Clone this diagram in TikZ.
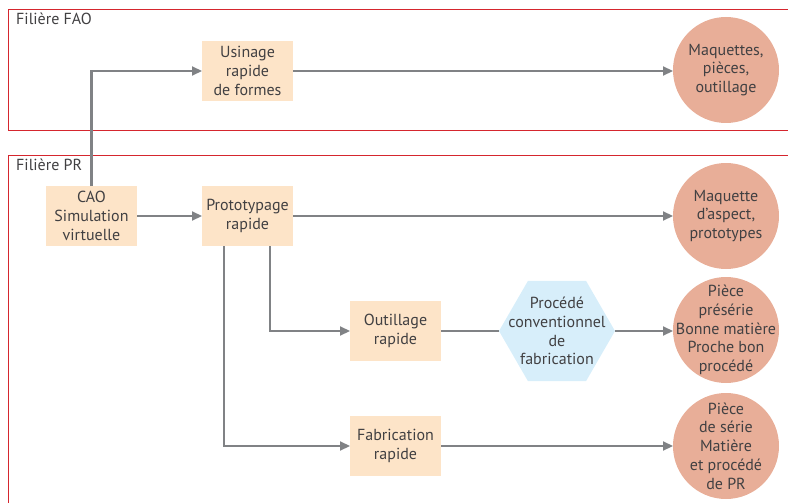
\documentclass[tikz,border=0pt]{standalone}
\usepackage{fontspec}
\setmainfont{PT Sans}
\usetikzlibrary{arrows.meta,shapes.geometric}
\definecolor{frameRed}{HTML}{D5262E}
\definecolor{peach}{HTML}{FDE4C8}
\definecolor{salmon}{HTML}{E8AE98}
\definecolor{skyblue}{HTML}{D7EEFA}
\definecolor{arrowGray}{HTML}{808285}
\definecolor{textGray}{HTML}{414042}
\begin{document}
\begin{tikzpicture}[x=1pt,y=-1pt,
  every node/.style={font=\fontsize{16}{18.8}\selectfont, text=textGray, align=center},
  stepbox/.style={fill=peach, minimum width=91pt, minimum height=60pt, inner sep=0pt, outer sep=0pt},
  result/.style={circle, fill=salmon, minimum size=106pt, inner sep=0pt, outer sep=0pt},
  hexa/.style={regular polygon, regular polygon sides=6, fill=skyblue, minimum size=116pt, inner sep=0pt, outer sep=0pt},
  frameline/.style={draw=frameRed, line width=1pt},
  conn/.style={draw=arrowGray, line width=2.2pt, -{Triangle[length=10pt,width=9pt]}},
  plainconn/.style={draw=arrowGray, line width=2.2pt}
]
\useasboundingbox (0,0) rectangle (788,503);
\begin{scope}
\clip (0,0) rectangle (788,503);
\draw[frameline] (800,10) -- (8,10) -- (8,130) -- (800,130);
\draw[frameline] (800,155) -- (8,155) -- (8,520);
\end{scope}
\node[anchor=base west, inner sep=0pt] (tfao) at (16,25) {Filière FAO};
\node[anchor=base west, inner sep=0pt] (tpr) at (16,170) {Filière PR};

\node[stepbox] (usin) at (247.5,71) {Usinage\\rapide\\de formes};
\node[stepbox] (cao) at (91.5,216) {CAO\\Simulation\\virtuelle};
\node[stepbox] (proto) at (247.5,216) {Prototypage\\rapide};
\node[stepbox] (outil) at (395.5,331) {Outillage\\rapide};
\node[stepbox] (fab) at (395.5,446) {Fabrication\\rapide};
\node[hexa] (hex) at (557,331) {};
\node at (hex.center) (hextext) {Procédé\\conventionnel\\de\\fabrication};

\node[result] (r1) at (726,70) {};
\node at (r1.center) (r1t) {Maquettes,\\pièces,\\outillage};
\node[result] (r2) at (726,216) {};
\node at (r2.center) (r2t) {Maquette\\d’aspect,\\prototypes};
\node[result] (r3) at (726,330) {};
\node at (r3.center) (r3t) {Pièce\\présérie\\Bonne matière\\Proche bon\\procédé};
\node[result] (r4) at (726,446) {};
\node at (r4.center) (r4t) {Pièce\\de série\\Matière\\et procédé\\de PR};

\draw[conn] (cao.north) |- (usin.west);
\draw[conn] (cao.east) -- (proto.west);
\draw[conn] (usin.east) -- (r1.west |- usin.east);
\draw[conn] (proto.east) -- (r2.west |- proto.east);
\draw[conn] ([xshift=22.5pt]proto.south) |- (outil.west);
\draw[conn] ([xshift=-23.5pt]proto.south) |- (fab.west);
\draw[plainconn] (outil.east) -- (hex.west |- outil.east);
\draw[conn] (hex.east |- outil.east) -- (r3.west |- outil.east);
\draw[conn] (fab.east) -- (r4.west |- fab.east);
\end{tikzpicture}
\end{document}
